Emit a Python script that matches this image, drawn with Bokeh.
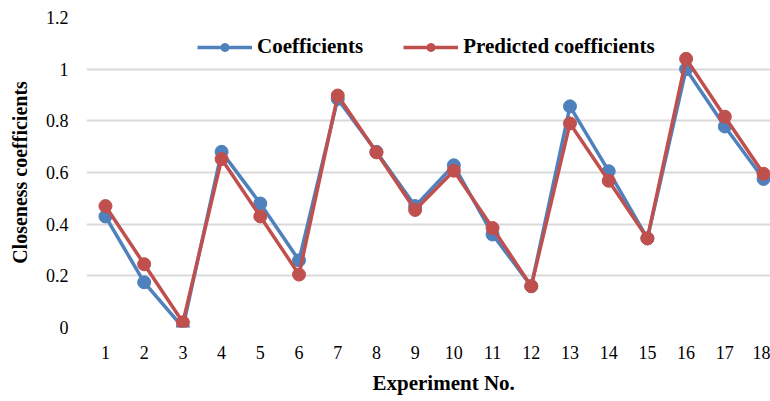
from bokeh.plotting import figure
from bokeh.models import FixedTicker, Range1d, Legend, LegendItem, Title
from bokeh.embed import file_html
from bokeh.resources import INLINE

# Experiment numbers and closeness coefficients
experiments = list(range(1, 19))
tick_labels = [str(e) for e in experiments]
coefficients = [0.43, 0.175, 0.0, 0.68, 0.48, 0.26, 0.885, 0.68, 0.47, 0.628,
                0.36, 0.16, 0.856, 0.605, 0.345, 1.0, 0.778, 0.575]
predicted = [0.47, 0.245, 0.02, 0.652, 0.43, 0.205, 0.898, 0.678, 0.455, 0.607,
             0.385, 0.16, 0.79, 0.568, 0.345, 1.04, 0.816, 0.595]
y_ticks = [0, 0.2, 0.4, 0.6, 0.8, 1.0, 1.2]
y_tick_labels = ["0", "0.2", "0.4", "0.6", "0.8", "1", "1.2"]

FONT = "Liberation Serif"
BLUE = "#4F81BD"
RED = "#C0504D"

p = figure(width=770, height=401, output_backend="svg", toolbar_location=None,
           x_range=Range1d(0.51, 18.18), y_range=Range1d(0, 1.2),
           min_border_left=86, min_border_right=0, min_border_top=17,
           min_border_bottom=74)
p.outline_line_color = None
p.background_fill_color = "white"
p.border_fill_color = "white"

# axes
p.xaxis.ticker = FixedTicker(ticks=experiments)
p.xaxis.major_label_overrides = {e: t for e, t in zip(experiments, tick_labels)}
p.yaxis.ticker = FixedTicker(ticks=y_ticks)
p.yaxis.major_label_overrides = {v: t for v, t in zip(y_ticks, y_tick_labels)}
for ax in (p.xaxis[0], p.yaxis[0]):
    ax.axis_line_color = None
    ax.major_tick_line_color = None
    ax.minor_tick_line_color = None
    ax.major_label_text_font = FONT
    ax.major_label_text_font_size = "18px"
    ax.major_label_text_color = "#000000"
    ax.axis_label_text_font = FONT
    ax.axis_label_text_font_style = "bold"
    ax.axis_label_text_color = "#000000"
p.yaxis.axis_label_text_font_size = "20px"
p.xaxis.major_label_standoff = 12
p.yaxis.major_label_standoff = 12
p.yaxis.axis_label = "Closeness coefficients"
p.yaxis.axis_label_standoff = 12

# x-axis title, placed under the tick labels
x_title = Title(text="Experiment No.", align="left", offset=286,
                text_font=FONT, text_font_style="bold", text_font_size="21px",
                text_color="#000000", standoff=14)
p.add_layout(x_title, "below")

p.xgrid.grid_line_color = None
p.ygrid.grid_line_color = "#D9D9D9"
p.ygrid.grid_line_width = 2

# series
l1 = p.line(experiments, coefficients, line_color=BLUE, line_width=3.5)
s1 = p.scatter(experiments, coefficients, size=13, fill_color=BLUE, line_color=BLUE)
l2 = p.line(experiments, predicted, line_color=RED, line_width=3.5)
s2 = p.scatter(experiments, predicted, size=13, fill_color=RED, line_color=RED)

legend = Legend(items=[LegendItem(label="Coefficients", renderers=[l1, s1]),
                       LegendItem(label="Predicted coefficients", renderers=[l2, s2])],
                orientation="horizontal", location=(111, 268),
                glyph_width=55, glyph_height=20, label_standoff=5, spacing=40,
                padding=0, margin=0, border_line_color=None,
                background_fill_alpha=0,
                label_text_font=FONT, label_text_font_style="bold",
                label_text_font_size="21px", label_text_color="#000000")
p.add_layout(legend, "center")

open("out.html", "w").write(file_html(p, INLINE))
